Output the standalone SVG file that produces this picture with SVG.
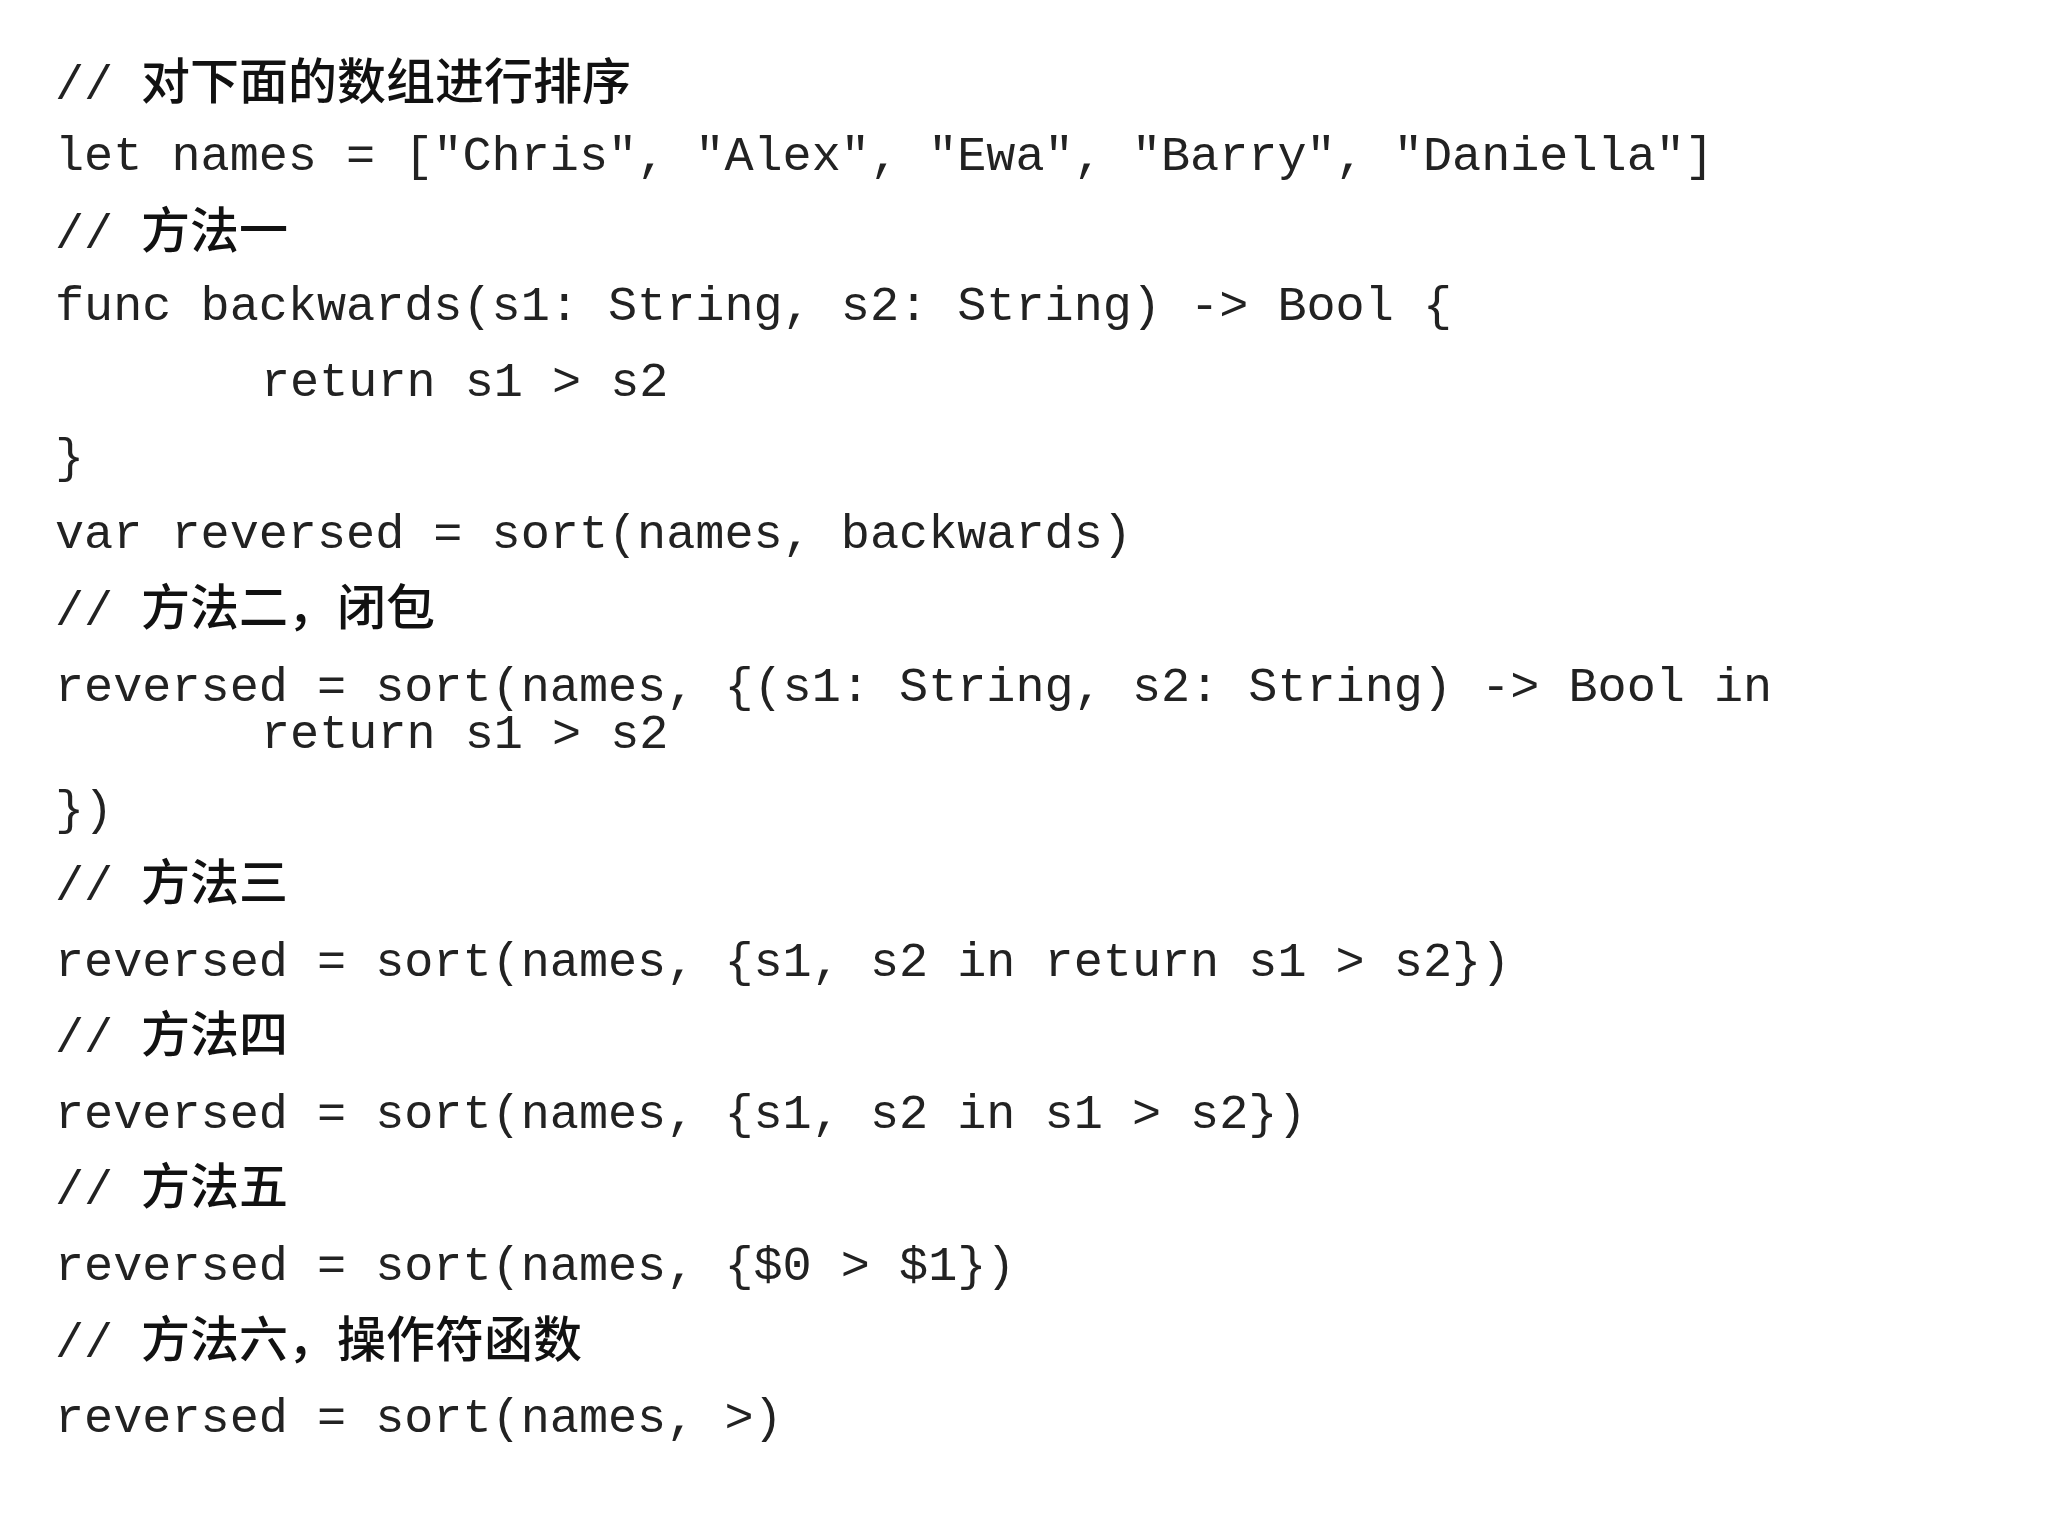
<svg xmlns="http://www.w3.org/2000/svg" width="2048" height="1536" viewBox="0 0 2048 1536">
<style>
.m{font-family:"Liberation Mono","Courier New",monospace;font-size:48.5px;fill:#222;white-space:pre}
.c{font-family:"Noto Sans CJK SC","Noto Sans",sans-serif;font-size:49px;fill:#111;font-weight:500}
</style>
<rect width="2048" height="1536" fill="#fff"/>
<g id="code">
<text class="m" x="55" y="99">//</text><text class="c" x="141" y="99">对下面的数组进行排序</text>
<text class="m" x="55" y="170" xml:space="preserve">let names = ["Chris", "Alex", "Ewa", "Barry", "Daniella"]</text>
<text class="m" x="55" y="248">//</text><text class="c" x="141" y="248">方法一</text>
<text class="m" x="55" y="320" xml:space="preserve">func backwards(s1: String, s2: String) -&gt; Bool {</text>
<text class="m" x="261" y="396" xml:space="preserve">return s1 &gt; s2</text>
<text class="m" x="55" y="472">}</text>
<text class="m" x="55" y="548" xml:space="preserve">var reversed = sort(names, backwards)</text>
<text class="m" x="55" y="625">//</text><text class="c" x="141" y="625">方法二，闭包</text>
<text class="m" x="55" y="701" xml:space="preserve">reversed = sort(names, {(s1: String, s2: String) -&gt; Bool in</text>
<text class="m" x="261" y="748" xml:space="preserve">return s1 &gt; s2</text>
<text class="m" x="55" y="824">})</text>
<text class="m" x="55" y="900">//</text><text class="c" x="141" y="900">方法三</text>
<text class="m" x="55" y="976" xml:space="preserve">reversed = sort(names, {s1, s2 in return s1 &gt; s2})</text>
<text class="m" x="55" y="1052">//</text><text class="c" x="141" y="1052">方法四</text>
<text class="m" x="55" y="1128" xml:space="preserve">reversed = sort(names, {s1, s2 in s1 &gt; s2})</text>
<text class="m" x="55" y="1204">//</text><text class="c" x="141" y="1204">方法五</text>
<text class="m" x="55" y="1280" xml:space="preserve">reversed = sort(names, {$0 &gt; $1})</text>
<text class="m" x="55" y="1357">//</text><text class="c" x="141" y="1357">方法六，操作符函数</text>
<text class="m" x="55" y="1432" xml:space="preserve">reversed = sort(names, &gt;)</text>
</g>
</svg>
